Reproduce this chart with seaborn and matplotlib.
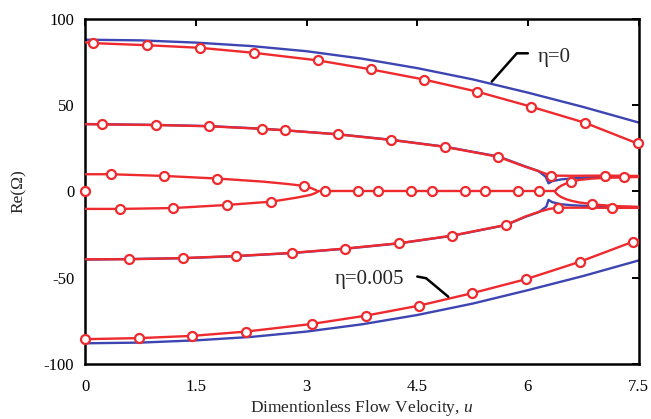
import matplotlib
matplotlib.use("Agg")
import matplotlib.pyplot as plt
import numpy as np
import pandas as pd
import seaborn as sns

# ---------------- data ----------------
# eta = 0 (blue curves)
u_b1 = [0, 0.75, 1.5, 2.25, 3, 3.75, 4.5, 5.25, 6, 6.75, 7.5]
re_b1 = [88, 87.6, 86.3, 84.3, 81.3, 77, 71.5, 65, 57.3, 49, 40]
u_b4 = [0, 0.75, 1.5, 2.25, 3, 3.75, 4.5, 5.25, 6, 6.75, 7.5]
re_b4 = [-88, -87.6, -86.3, -84.3, -81.2, -77, -71.6, -65, -57.2, -49, -40]
u_b2 = [0, 0.96, 1.68, 2.40, 3.42, 4.14, 4.87, 5.60, 5.96, 6.14, 6.24, 6.28,
        6.33, 6.45, 6.6, 6.9, 7.2, 7.5]
re_b2 = [39.1, 38.6, 37.9, 36.4, 33.2, 30.0, 26.0, 20.3, 14.6, 11.9, 8.6, 4.7,
         6.0, 7.0, 7.6, 8.3, 8.6, 8.8]
u_b3 = [0, 1.32, 2.04, 2.80, 3.52, 4.25, 4.97, 5.70, 5.96, 6.15, 6.25, 6.28,
        6.33, 6.45, 6.6, 6.9, 7.2, 7.5]
re_b3 = [-39.5, -38.7, -37.5, -35.7, -33.2, -30.1, -25.7, -19.5, -14.8, -11.9,
         -8.8, -4.9, -6.2, -7.4, -8.0, -8.6, -8.9, -9.1]

# eta = 0.005 (red curves)
u_r1 = [0, 0.107, 0.83, 1.55, 2.28, 3.15, 3.87, 4.59, 5.31, 6.04, 6.77, 7.5]
re_r1 = [86.5, 86.0, 84.8, 83.3, 80.4, 76.0, 70.8, 64.9, 57.9, 49.2, 39.9, 27.6]
u_r2 = [0, 0.225, 0.96, 1.68, 2.40, 2.70, 3.42, 4.14, 4.87, 5.60, 5.96, 6.14,
        6.31, 6.6, 7.04, 7.5]
re_r2 = [39.0, 38.9, 38.5, 37.8, 36.3, 35.5, 33.1, 29.9, 25.9, 20.1, 14.4, 11.9,
         9.2, 9.1, 9.2, 9.0]
u_r2b = [6.37, 6.40, 6.45, 6.52, 6.59, 6.7, 6.85, 7.0, 7.15, 7.31, 7.5]
re_r2b = [0.3, 1.8, 3.3, 4.7, 5.7, 6.7, 7.4, 7.8, 8.0, 8.2, 8.4]
u_r3 = [0, 0.34, 1.07, 1.79, 2.41, 2.75, 2.97, 3.06, 3.12, 3.15]
re_r3 = [10.0, 10.0, 9.0, 7.5, 5.7, 4.3, 3.2, 2.0, 0.9, 0]
u_r0 = [3.15, 6.37]
re_r0 = [0, 0]
u_r4 = [0, 0.47, 1.19, 1.92, 2.52, 2.86, 3.05, 3.12, 3.15]
re_r4 = [-10.1, -10.1, -9.6, -7.8, -5.9, -3.6, -2.0, -0.9, 0]
u_r5 = [0, 0.59, 1.32, 2.04, 2.80, 3.52, 4.25, 4.97, 5.70, 5.96, 6.15, 6.30,
        6.41, 6.8, 7.14, 7.5]
re_r5 = [-39.3, -39.3, -38.6, -37.4, -35.6, -33.1, -30.0, -25.6, -19.4, -14.6,
         -11.8, -10.0, -9.4, -9.4, -9.5, -9.5]
u_r5b = [6.37, 6.40, 6.45, 6.52, 6.6, 6.7, 6.87, 7.0, 7.2, 7.5]
re_r5b = [-0.3, -1.8, -3.2, -4.5, -5.5, -6.4, -7.3, -7.9, -8.5, -8.9]
u_r6 = [0, 0.73, 1.45, 2.18, 3.07, 3.80, 4.52, 5.24, 5.97, 6.70, 7.42, 7.5]
re_r6 = [-85.6, -85.0, -83.7, -81.2, -76.8, -72.0, -66.2, -59.0, -50.9, -40.8,
         -29.2, -28.0]

# circle markers on the eta = 0.005 curves
mk_u = [0.107, 0.83, 1.55, 2.28, 3.15, 3.87, 4.59, 5.31, 6.04, 6.77, 7.49,
        0.225, 0.96, 1.68, 2.40, 2.70, 3.42, 4.14, 4.87, 5.60, 6.31, 7.04,
        6.59, 7.31,
        0.34, 1.07, 1.79, 2.97,
        0.0, 3.25, 3.69, 3.97, 4.41, 4.70, 5.15, 5.42, 5.87, 6.15,
        0.47, 1.19, 1.92, 2.52,
        0.59, 1.32, 2.04, 2.80, 3.52, 4.25, 4.97, 5.70, 6.41, 7.14,
        6.87,
        0.0, 0.73, 1.45, 2.18, 3.07, 3.80, 4.52, 5.24, 5.97, 6.70, 7.42]
mk_re = [86.0, 84.8, 83.3, 80.4, 76.0, 70.8, 64.9, 57.9, 49.2, 39.9, 27.9,
         38.9, 38.5, 37.8, 36.3, 35.5, 33.1, 29.9, 25.9, 20.1, 9.2, 9.2,
         5.7, 8.2,
         10.0, 9.0, 7.5, 3.2,
         0, 0, 0, 0, 0, 0, 0, 0, 0, 0,
         -10.1, -9.6, -7.8, -5.9,
         -39.3, -38.6, -37.4, -35.6, -33.1, -30.0, -25.6, -19.4, -9.4, -9.5,
         -7.3,
         -85.6, -85.0, -83.7, -81.2, -76.8, -72.0, -66.2, -59.0, -50.9, -40.8, -29.2]

x_ticks = [0, 1.5, 3, 4.5, 6, 7.5]
x_ticklabels = ["0", "1.5", "3", "4.5", "6", "7.5"]
y_ticks = [-100, -50, 0, 50, 100]
y_ticklabels = ["-100", "-50", "0", "50", "100"]

# ---------------- build tables ----------------
def table(curves):
    rows = []
    for name, (u, r) in curves.items():
        for i, (a, b) in enumerate(zip(u, r)):
            rows.append({"curve": name, "u": a, "re": b, "order": i})
    return pd.DataFrame(rows)

df_blue = table({"b1": (u_b1, re_b1), "b2": (u_b2, re_b2),
                 "b3": (u_b3, re_b3), "b4": (u_b4, re_b4)})
df_red = table({"r1": (u_r1, re_r1), "r2": (u_r2, re_r2), "r2b": (u_r2b, re_r2b),
                "r3": (u_r3, re_r3), "r0": (u_r0, re_r0), "r4": (u_r4, re_r4),
                "r5": (u_r5, re_r5), "r5b": (u_r5b, re_r5b), "r6": (u_r6, re_r6)})
df_mk = pd.DataFrame({"u": mk_u, "re": mk_re})

# ---------------- style ----------------
sns.set_theme(style="white")
plt.rcParams["font.family"] = ["Liberation Serif", "DejaVu Serif"]
plt.rcParams["mathtext.fontset"] = "custom"
plt.rcParams["mathtext.rm"] = "Liberation Serif"
plt.rcParams["mathtext.it"] = "Liberation Serif:italic"

RED = "#ee2a2e"
BLUE = "#3d45b2"

fig = plt.figure(figsize=(6.51, 4.19), dpi=100)
ax = fig.add_axes([0.1313, 0.1313, 0.8495, 0.8234])

sns.lineplot(data=df_blue, x="u", y="re", units="curve", estimator=None,
             sort=False, color=BLUE, lw=1.7, ax=ax, zorder=2)
sns.lineplot(data=df_red, x="u", y="re", units="curve", estimator=None,
             sort=False, color=RED, lw=1.7, ax=ax, zorder=3)
sns.scatterplot(data=df_mk, x="u", y="re", marker="o", color="white",
                edgecolor=RED, linewidth=1.6, s=42, ax=ax, zorder=4,
                clip_on=False)

# annotations (leader lines)
ax.plot([5.51, 5.85, 6.0], [63.7, 80.1, 80.1], color="black", lw=1.8, zorder=5)
ax.text(6.14, 77.4, "η=0", fontsize=15, va="center", ha="left")
ax.plot([4.50, 4.62, 4.92], [-49.3, -50.3, -61.0], color="black", lw=1.8, zorder=5)
ax.text(3.38, -50.9, "η=0.005", fontsize=15, va="center", ha="left")

ax.set_xlim(0, 7.5)
ax.set_ylim(-100, 100)
ax.set_xticks(x_ticks)
ax.set_xticklabels(x_ticklabels)
ax.set_yticks(y_ticks)
ax.set_yticklabels(y_ticklabels)
ax.tick_params(direction="in", top=True, right=True, length=5, width=1.4,
               labelsize=12, colors="black", pad=8)
ax.tick_params(axis="x", pad=11)
for s in ax.spines.values():
    s.set_color("black")
    s.set_linewidth(1.8)
ax.set_xlabel("Dimentionless Flow Velocity, $\\mathit{u}$", fontsize=12.5, labelpad=2)
ax.set_ylabel("Re(Ω)", fontsize=12.5, labelpad=12)
ax.grid(False)

fig.savefig("out.png", dpi=100)
